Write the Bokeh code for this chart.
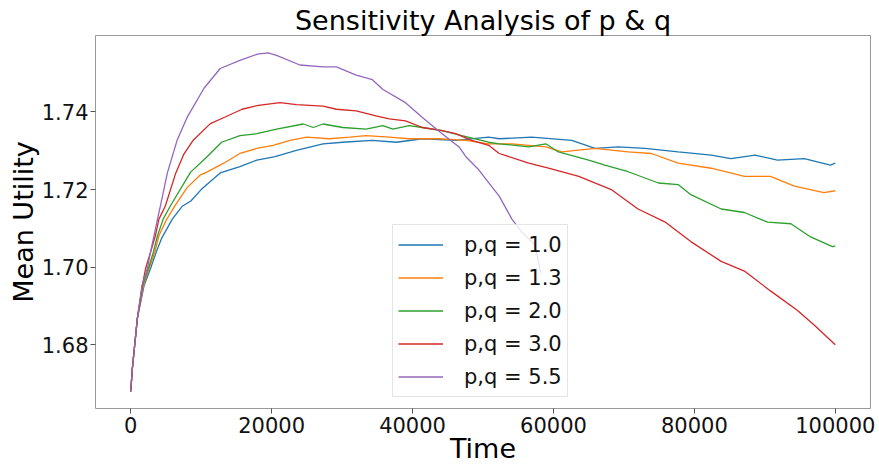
from bokeh.plotting import figure
from bokeh.models import Range1d, FixedTicker, PrintfTickFormatter, Legend, LegendItem
from bokeh.embed import file_html
from bokeh.resources import INLINE

# ---- data ----
labels = ["p,q = 1.0", "p,q = 1.3", "p,q = 2.0", "p,q = 3.0", "p,q = 5.5"]
colors = ["#1f77b4", "#ff7f0e", "#2ca02c", "#d62728", "#9467bd"]

t_10 = [0, 240, 470, 940, 1900, 2800, 3600, 4400, 5900, 7300, 8500, 10000, 11300, 12700,
        15500, 17900, 20500, 23500, 27300, 30100, 34300, 37700, 41400, 46100, 50800,
        52300, 56900, 62600, 65900, 69200, 73000, 77700, 82400, 85200, 88600, 91800,
        95600, 99300, 100000]
u_10 = [1.668, 1.6741, 1.6783, 1.6868, 1.6953, 1.6996, 1.7038, 1.7075, 1.7124, 1.7157,
        1.7170, 1.7200, 1.7221, 1.7243, 1.7259, 1.7276, 1.7285, 1.7301, 1.7318, 1.7322,
        1.7327, 1.7322, 1.7331, 1.7327, 1.7335, 1.7331, 1.7335, 1.7327, 1.7306, 1.7310,
        1.7306, 1.7297, 1.7289, 1.7280, 1.7289, 1.7276, 1.7280, 1.7263, 1.7268]

t_13 = [0, 240, 470, 940, 1800, 2600, 3400, 4000, 5000, 6400, 8000, 9900, 10800, 13200,
        15500, 17900, 20200, 22600, 25000, 28200, 31100, 33400, 36700, 39500, 43800,
        47600, 50800, 54100, 58900, 61200, 65900, 70600, 73900, 77700, 82400, 87100,
        90800, 94200, 98400, 100000]
u_13 = [1.668, 1.6741, 1.6783, 1.6868, 1.6953, 1.6996, 1.7038, 1.7081, 1.7120, 1.7162,
        1.7205, 1.7238, 1.7245, 1.7268, 1.7293, 1.7306, 1.7314, 1.7327, 1.7335, 1.7331,
        1.7335, 1.7339, 1.7335, 1.7331, 1.7331, 1.7327, 1.7318, 1.7318, 1.7310, 1.7297,
        1.7306, 1.7297, 1.7293, 1.7268, 1.7255, 1.7234, 1.7234, 1.7209, 1.7192, 1.7197]

t_20 = [0, 240, 470, 940, 1700, 2500, 3200, 3800, 4600, 5600, 8500, 10800, 12900, 15500,
        17900, 20700, 24500, 25900, 27300, 30100, 33400, 35800, 37200, 39500, 41400,
        44200, 47000, 50800, 52300, 56500, 58900, 60700, 65000, 67300, 70600, 74900,
        77700, 79500, 83800, 87100, 90400, 93700, 96500, 99600, 100000]
u_20 = [1.668, 1.6741, 1.6783, 1.6868, 1.6953, 1.6996, 1.7038, 1.7081, 1.7124, 1.7157,
        1.7245, 1.7284, 1.7322, 1.7339, 1.7344, 1.7356, 1.7369, 1.7360, 1.7369, 1.7360,
        1.7356, 1.7365, 1.7356, 1.7365, 1.7360, 1.7352, 1.7339, 1.7322, 1.7318, 1.7310,
        1.7318, 1.7297, 1.7276, 1.7263, 1.7246, 1.7217, 1.7213, 1.7187, 1.7150, 1.7141,
        1.7116, 1.7112, 1.7078, 1.7053, 1.7055]

t_30 = [0, 240, 470, 940, 1650, 2100, 2800, 3500, 4000, 4900, 6400, 7500, 8900, 11300,
        13400, 15800, 18100, 21200, 23500, 27300, 29200, 32000, 34800, 36700, 39000,
        41400, 44200, 46100, 48400, 50800, 52300, 56500, 59300, 63600, 68200, 72000,
        75800, 79500, 83800, 87100, 90800, 94600, 97000, 100000]
u_30 = [1.668, 1.6741, 1.6783, 1.6868, 1.6953, 1.6996, 1.7038, 1.7081, 1.7124, 1.7157,
        1.7243, 1.7290, 1.7328, 1.7370, 1.7387, 1.7407, 1.7417, 1.7424, 1.7419, 1.7415,
        1.7407, 1.7403, 1.7390, 1.7382, 1.7377, 1.7360, 1.7352, 1.7344, 1.7327, 1.7314,
        1.7293, 1.7268, 1.7255, 1.7234, 1.7200, 1.7150, 1.7117, 1.7066, 1.7015, 1.6990,
        1.6939, 1.6889, 1.6851, 1.6800]

t_55 = [0, 240, 470, 940, 1600, 2350, 2800, 3300, 3800, 4200, 5200, 6600, 8000, 10400,
        12700, 15500, 18000, 19500, 20700, 24000, 27300, 29200, 32000, 34300, 35800,
        39000, 41400, 44200, 46600, 47600, 49400, 50800, 52300, 54100, 55500, 57400,
        58200]
u_55 = [1.668, 1.6741, 1.6783, 1.6868, 1.6953, 1.6996, 1.7038, 1.7081, 1.7124, 1.7157,
        1.7243, 1.7328, 1.7386, 1.7461, 1.7512, 1.7533, 1.7549, 1.7552, 1.7546, 1.7521,
        1.7516, 1.7516, 1.7495, 1.7483, 1.7458, 1.7424, 1.7386, 1.7344, 1.7310, 1.7284,
        1.7251, 1.7218, 1.7183, 1.7124, 1.7091, 1.7057, 1.6985]

series_t = [t_10, t_13, t_20, t_30, t_55]
series_u = [u_10, u_13, u_20, u_30, u_55]

x_ticks = [0, 20000, 40000, 60000, 80000, 100000]
y_ticks = [1.68, 1.70, 1.72, 1.74]

FONT = "DejaVu Sans"

p = figure(width=879, height=468, output_backend="svg", toolbar_location=None,
           x_range=Range1d(-5000, 105000), y_range=Range1d(1.6636, 1.7597),
           min_border_left=95, min_border_right=9, min_border_top=35, min_border_bottom=60)

p.title.text = "Sensitivity Analysis of p & q"
p.title.align = "center"
p.title.text_font = FONT
p.title.text_font_size = "27px"
p.title.text_font_style = "normal"
p.title.text_color = "#000000"
p.title.standoff = 0
p.title.offset = 0

p.xgrid.visible = False
p.ygrid.visible = False
p.outline_line_color = "#999999"
p.outline_line_width = 1
p.background_fill_color = "white"
p.border_fill_color = "white"

for ax in (p.xaxis[0], p.yaxis[0]):
    ax.axis_line_color = None
    ax.major_tick_line_color = "#555555"
    ax.major_tick_out = 5
    ax.major_tick_in = 0
    ax.minor_tick_line_color = None
    ax.major_label_text_font = FONT
    ax.major_label_text_font_size = "21px"
    ax.major_label_text_color = "#111111"
    ax.axis_label_text_font = FONT
    ax.axis_label_text_font_size = "27px"
    ax.axis_label_text_font_style = "normal"
    ax.axis_label_text_color = "#000000"

p.xaxis[0].ticker = FixedTicker(ticks=x_ticks)
p.xaxis[0].formatter = PrintfTickFormatter(format="%d")
p.xaxis[0].axis_label = "Time"
p.xaxis[0].major_label_standoff = 3
p.xaxis[0].axis_label_standoff = -3

p.yaxis[0].ticker = FixedTicker(ticks=y_ticks)
p.yaxis[0].formatter = PrintfTickFormatter(format="%.2f")
p.yaxis[0].axis_label = "Mean Utility"
p.yaxis[0].major_label_standoff = 2
p.yaxis[0].axis_label_standoff = 0

items = []
for t, u, c, lab in zip(series_t, series_u, colors, labels):
    r = p.line(t, u, line_color=c, line_width=1.3)
    items.append(LegendItem(label=lab, renderers=[r]))

legend = Legend(items=items, location=(297, 11))
legend.label_text_font = FONT
legend.label_text_font_size = "21px"
legend.label_text_color = "#111111"
legend.label_standoff = 21
legend.glyph_width = 45
legend.glyph_height = 29
legend.label_height = 29
legend.spacing = 4
legend.padding = 5
legend.margin = 0
legend.background_fill_color = "white"
legend.background_fill_alpha = 0.8
legend.border_line_color = "#cccccc"
legend.border_line_width = 1
p.add_layout(legend, "center")

open("out.html", "w").write(file_html(p, INLINE))
